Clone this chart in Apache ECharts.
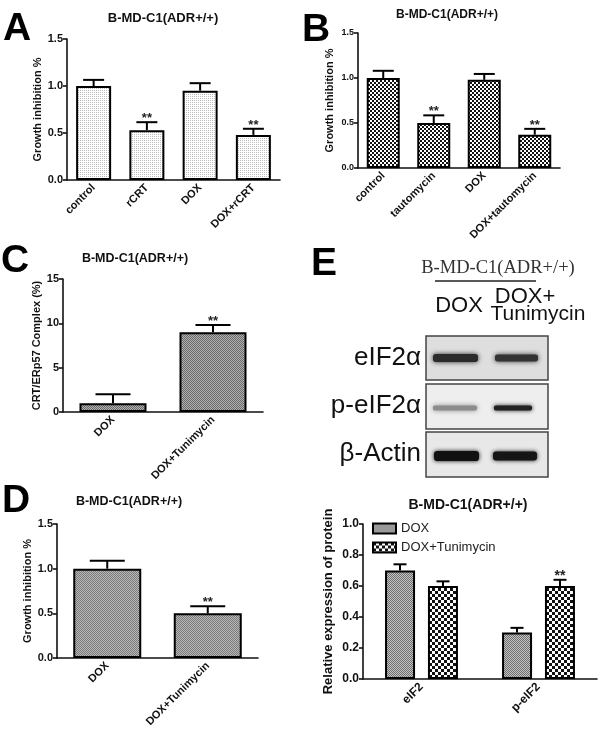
<!DOCTYPE html>
<html><head><meta charset="utf-8">
<script src="https://cdn.jsdelivr.net/npm/echarts@6/dist/echarts.min.js"></script>
<style>html,body{margin:0;padding:0;background:#fff}#c{width:600px;height:743px}</style>
</head><body><div id="c"></div>
<script>
// ---------- data ----------
const panelTitle = 'B-MD-C1(ADR+/+)';

const catsA = ['control', 'rCRT', 'DOX', 'DOX+rCRT'];
const valsA = [1.0, 0.53, 0.95, 0.48];
const errA  = [0.065, 0.085, 0.08, 0.065];
const sigA  = ['', '**', '', '**'];

const catsB = ['control', 'tautomycin', 'DOX', 'DOX+tautomycin'];
const valsB = [1.0, 0.50, 0.98, 0.37];
const errB  = [0.08, 0.085, 0.065, 0.065];
const sigB  = ['', '**', '', '**'];

const catsC = ['DOX', 'DOX+Tunimycin'];
const valsC = [1.0, 9.0];
const errC  = [1.0, 0.8];
const sigC  = ['', '**'];

const catsD = ['DOX', 'DOX+Tunimycin'];
const valsD = [1.0, 0.50];
const errD  = [0.09, 0.08];
const sigD  = ['', '**'];

const catsE = ['eIF2', 'p-eIF2'];
const seriesNamesE = ['DOX', 'DOX+Tunimycin'];
const valsE_DOX = [0.70, 0.30];
const errE_DOX  = [0.04, 0.03];
const sigE_DOX  = ['', ''];
const valsE_TUN = [0.60, 0.60];
const errE_TUN  = [0.03, 0.04];
const sigE_TUN  = ['', '**'];

const blotLanes = ['DOX', 'DOX+', 'Tunimycin'];
const blotRows = ['eIF2α', 'p-eIF2α', 'β-Actin'];

// ---------- patterns ----------
function pat(size, draw) {
  const c = document.createElement('canvas');
  c.width = c.height = size;
  const g = c.getContext('2d');
  draw(g);
  return { image: c, repeat: 'repeat' };
}
const patA = pat(2, g => { g.fillStyle = '#fff'; g.fillRect(0,0,2,2); g.fillStyle = '#bdbdbd'; g.fillRect(0,0,1,1); });
const patB = pat(4, g => { g.fillStyle = '#fff'; g.fillRect(0,0,4,4); g.fillStyle = '#111'; g.fillRect(0,0,2,2); g.fillRect(2,2,2,2); });
const patC = pat(2, g => { g.fillStyle = '#b0b0b0'; g.fillRect(0,0,2,2); g.fillStyle = '#6a6a6a'; g.fillRect(0,0,1,1); g.fillRect(1,1,1,1); });
const patD = pat(2, g => { g.fillStyle = '#b8b8b8'; g.fillRect(0,0,2,2); g.fillStyle = '#7a7a7a'; g.fillRect(0,0,1,1); g.fillRect(1,1,1,1); });
const patE1 = pat(2, g => { g.fillStyle = '#c4c4c4'; g.fillRect(0,0,2,2); g.fillStyle = '#6e6e6e'; g.fillRect(0,0,1,1); g.fillRect(1,1,1,1); });
const patE2 = pat(6, g => { g.fillStyle = '#fff'; g.fillRect(0,0,6,6); g.fillStyle = '#111'; g.fillRect(0,0,3,3); g.fillRect(3,3,3,3); });

const FF = 'Liberation Sans, Arial, sans-serif';

// ---------- helpers ----------
function xAx(gi, cats, fs) {
  return {
    type: 'category', gridIndex: gi, data: cats,
    axisLine: { lineStyle: { color: '#111', width: 1.6 } },
    axisTick: { alignWithLabel: true, length: 4, lineStyle: { color: '#111', width: 1.6 } },
    axisLabel: { rotate: 45, interval: 0, fontSize: fs, fontWeight: 'bold', color: '#111', fontFamily: FF, margin: 6 }
  };
}
function yAx(gi, max, interval, dec, name, gap, fs, nfs) {
  return {
    type: 'value', gridIndex: gi, min: 0, max: max, interval: interval,
    splitLine: { show: false },
    axisLine: { show: true, lineStyle: { color: '#111', width: 1.6 } },
    axisTick: { show: true, length: 4, lineStyle: { color: '#111', width: 1.6 } },
    axisLabel: { formatter: v => v.toFixed(dec), fontSize: fs, fontWeight: 'bold', color: '#111', fontFamily: FF, margin: 4 },
    name: name, nameLocation: 'middle', nameGap: gap,
    nameTextStyle: { fontSize: nfs, fontWeight: 'bold', color: '#111', fontFamily: FF }
  };
}
function barS(gi, vals, color, bw, name) {
  const s = {
    type: 'bar', xAxisIndex: gi, yAxisIndex: gi, data: vals, barWidth: bw,
    itemStyle: { color: color, borderColor: '#000', borderWidth: 2 },
    silent: true, z: 2
  };
  if (name) s.name = name;
  return s;
}
function errS(gi, vals, errs, sigs, cap, off, sfs) {
  return {
    type: 'custom', xAxisIndex: gi, yAxisIndex: gi, z: 5, silent: true,
    data: vals.map((v, i) => [i, v, errs[i]]),
    encode: { x: 0, y: 1 },
    renderItem: (p, api) => {
      const i = api.value(0), v = api.value(1), e = api.value(2);
      const b = api.coord([i, v]);
      const t = api.coord([i, v + e]);
      const x = b[0] + off;
      const ch = [
        { type: 'line', shape: { x1: x, y1: b[1], x2: x, y2: t[1] }, style: { stroke: '#000', lineWidth: 2 } },
        { type: 'line', shape: { x1: x - cap / 2, y1: t[1], x2: x + cap / 2, y2: t[1] }, style: { stroke: '#000', lineWidth: 2 } }
      ];
      const s = sigs[p.dataIndex];
      if (s) ch.push({ type: 'text', style: { text: s, x: x, y: t[1] + 3, align: 'center', verticalAlign: 'bottom', font: 'bold ' + sfs + 'px ' + FF, fill: '#222' } });
      return { type: 'group', children: ch };
    }
  };
}
function txt(x, y, text, font, align, color) {
  return { type: 'text', x: x, y: y, silent: true, style: { text: text, font: font, fill: color || '#111', align: align || 'center', verticalAlign: 'middle' } };
}
function band(x, y, w, h, fill, blur) {
  return { type: 'rect', silent: true, shape: { x: x, y: y - h / 2, width: w, height: h, r: h / 3 }, style: { fill: fill, shadowBlur: blur, shadowColor: fill } };
}

// ---------- option ----------
const E_BW = 30, E_GAP = 13;
const option = {
  backgroundColor: '#fff',
  animation: false,
  grid: [
    { left: 67, top: 39, width: 213, height: 141 },
    { left: 358, top: 33, width: 202, height: 135 },
    { left: 63, top: 279, width: 200, height: 133 },
    { left: 57, top: 524, width: 201, height: 134 },
    { left: 363, top: 524, width: 234, height: 155 }
  ],
  xAxis: [xAx(0, catsA, 11), xAx(1, catsB, 11), xAx(2, catsC, 11), xAx(3, catsD, 11), xAx(4, catsE, 12)],
  yAxis: [
    yAx(0, 1.5, 0.5, 1, 'Growth inhibition %', 24, 11, 11),
    yAx(1, 1.5, 0.5, 1, 'Growth inhibition %', 23, 9, 11),
    yAx(2, 15, 5, 0, 'CRT/ERp57 Complex (%)', 20, 11, 11),
    yAx(3, 1.5, 0.5, 1, 'Growth inhibition %', 24, 11, 11),
    yAx(4, 1.0, 0.2, 1, 'Relative expression of protein', 28, 12, 13)
  ],
  legend: {
    data: seriesNamesE, orient: 'vertical', left: 372, top: 522, padding: 0,
    itemWidth: 23, itemHeight: 10, itemGap: 6, icon: 'rect', selectedMode: false,
    textStyle: { fontSize: 13, color: '#222', fontFamily: FF }
  },
  series: [
    barS(0, valsA, patA, 35), errS(0, valsA, errA, sigA, 21, 0, 13),
    barS(1, valsB, patB, 33), errS(1, valsB, errB, sigB, 21, 0, 13),
    barS(2, valsC, patC, 67), errS(2, valsC, errC, sigC, 35, 0, 13),
    barS(3, valsD, patD, 68), errS(3, valsD, errD, sigD, 35, 0, 13),
    Object.assign(barS(4, valsE_DOX, patE1, E_BW, seriesNamesE[0]), { barGap: (E_GAP / E_BW * 100).toFixed(0) + '%' }),
    barS(4, valsE_TUN, patE2, E_BW, seriesNamesE[1]),
    errS(4, valsE_DOX, errE_DOX, sigE_DOX, 13, -(E_BW + E_GAP) / 2, 14),
    errS(4, valsE_TUN, errE_TUN, sigE_TUN, 13, (E_BW + E_GAP) / 2, 14)
  ],
  graphic: { elements: [
    // panel letters
    txt(3, 29, 'A', 'bold 39px ' + FF, 'left', '#000'),
    txt(302, 30, 'B', 'bold 39px ' + FF, 'left', '#000'),
    txt(1, 261, 'C', 'bold 39px ' + FF, 'left', '#000'),
    txt(2, 501, 'D', 'bold 39px ' + FF, 'left', '#000'),
    txt(311, 264, 'E', 'bold 39px ' + FF, 'left', '#000'),
    // chart titles
    txt(163, 18, panelTitle, 'bold 13px ' + FF),
    txt(447, 15, panelTitle, 'bold 12px ' + FF),
    txt(135, 259, panelTitle, 'bold 12.5px ' + FF),
    txt(129, 502, panelTitle, 'bold 12.5px ' + FF),
    txt(468, 505, panelTitle, 'bold 14px ' + FF),
    // western blot header
    txt(498, 268, panelTitle, '18.5px Liberation Serif, serif', 'center', '#333'),
    { type: 'line', silent: true, shape: { x1: 435, y1: 281, x2: 536, y2: 281 }, style: { stroke: '#222', lineWidth: 1.5 } },
    txt(459, 306, blotLanes[0], '22px ' + FF, 'center', '#111'),
    txt(525, 297, blotLanes[1], '22px ' + FF, 'center', '#111'),
    txt(538, 314, blotLanes[2], '21px ' + FF, 'center', '#111'),
    // blot row labels
    txt(421, 358, blotRows[0], '26px ' + FF, 'right', '#111'),
    txt(421, 406, blotRows[1], '26px ' + FF, 'right', '#111'),
    txt(421, 454, blotRows[2], '26px ' + FF, 'right', '#111'),
    // blot boxes
    { type: 'rect', silent: true, shape: { x: 426, y: 336, width: 122, height: 44 }, style: { fill: '#dedede', stroke: '#444', lineWidth: 1.5 } },
    { type: 'rect', silent: true, shape: { x: 426, y: 384, width: 122, height: 45 }, style: { fill: '#eeeeee', stroke: '#444', lineWidth: 1.5 } },
    { type: 'rect', silent: true, shape: { x: 426, y: 432, width: 122, height: 45 }, style: { fill: '#e8e8e8', stroke: '#444', lineWidth: 1.5 } },
    // bands
    band(433, 358, 45, 8, '#2a2a2a', 5),
    band(495, 358, 43, 7, '#333333', 5),
    band(433, 408, 44, 5, '#8c8c8c', 5),
    band(494, 408, 38, 5, '#222222', 4),
    band(434, 456, 45, 10, '#111111', 4),
    band(493, 456, 44, 9, '#151515', 4)
  ] }
};

const chart = echarts.init(document.getElementById('c'), null, { renderer: 'canvas' });
chart.setOption(option);
</script>
</body></html>
